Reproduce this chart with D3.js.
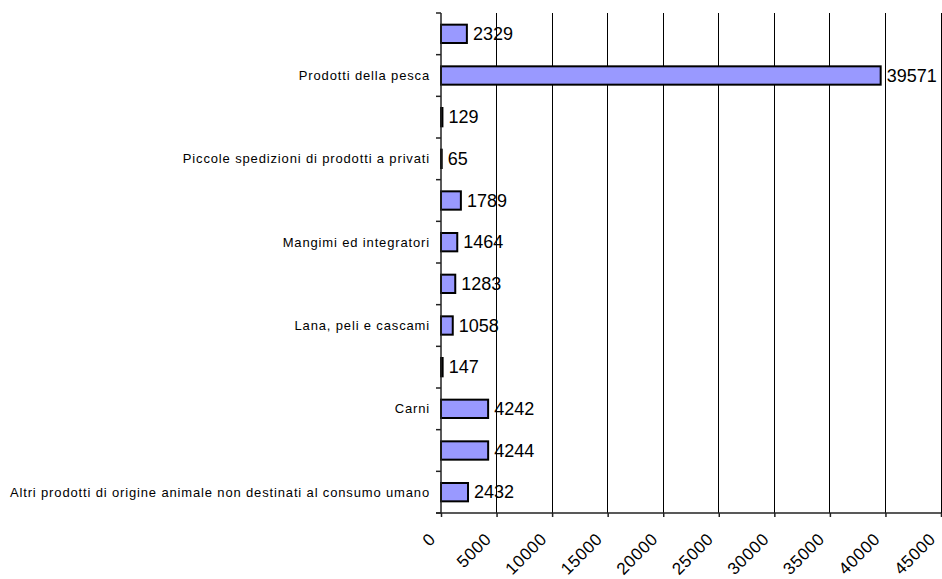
<!DOCTYPE html>
<html>
<head>
<meta charset="utf-8">
<script src="https://cdn.jsdelivr.net/npm/d3@7"></script>
<style>
  html, body { margin: 0; padding: 0; background: #fff; }
  svg { display: block; }
  text { font-family: Arial, "Liberation Sans", sans-serif; fill: #000; }
</style>
</head>
<body>
<svg id="chart" width="942" height="579"></svg>
<script>
// Categories from top to bottom (labels hidden in the original are left empty)
const categories = [
  "",
  "Prodotti della pesca",
  "",
  "Piccole spedizioni di prodotti a privati",
  "",
  "Mangimi ed integratori",
  "",
  "Lana, peli e cascami",
  "",
  "Carni",
  "",
  "Altri prodotti di origine animale non destinati al consumo umano"
];
const values = [2329, 39571, 129, 65, 1789, 1464, 1283, 1058, 147, 4242, 4244, 2432];
const xTicks = [0, 5000, 10000, 15000, 20000, 25000, 30000, 35000, 40000, 45000];

const svg = d3.select("#chart");
const mLeft = 441, mRight = 941, mTop = 13, mBottom = 513;

const x = d3.scaleLinear().domain([0, 45000]).range([mLeft, mRight]);
const y = d3.scaleBand().domain(d3.range(categories.length)).range([mTop, mBottom]).padding(0);
const barH = y.bandwidth() * 0.44;

// gridlines
svg.append("g").selectAll("line")
  .data(xTicks.filter(d => d > 0))
  .join("line")
  .attr("x1", d => x(d)).attr("x2", d => x(d))
  .attr("y1", mTop).attr("y2", mBottom)
  .attr("stroke", "#000").attr("stroke-width", 1)
  .attr("shape-rendering", "crispEdges");

// bars
svg.append("g").selectAll("rect")
  .data(values)
  .join("rect")
  .attr("x", x(0))
  .attr("y", (d, i) => y(i) + (y.bandwidth() - barH) / 2)
  .attr("width", d => x(d) - x(0))
  .attr("height", barH)
  .attr("fill", "#9999FF")
  .attr("stroke", "#000")
  .attr("stroke-width", 2);

// value labels
svg.append("g").selectAll("text")
  .data(values)
  .join("text")
  .attr("x", d => x(d) + 6)
  .attr("y", (d, i) => y(i) + y.bandwidth() / 2)
  .attr("dy", "0.35em")
  .attr("font-size", 18)
  .text(d => d);

// x axis
const xAxis = svg.append("g")
  .attr("transform", `translate(0,${mBottom})`)
  .call(d3.axisBottom(x).tickValues(xTicks).tickSize(4).tickFormat(d3.format("d")));
xAxis.select(".domain").remove();
xAxis.selectAll(".tick line").attr("stroke", "#222").attr("stroke-width", 1.5);
xAxis.selectAll(".tick text")
  .attr("font-size", 17)
  .attr("font-family", "Arial, 'Liberation Sans', sans-serif")
  .attr("letter-spacing", 0.6)
  .attr("text-anchor", "end")
  .attr("y", 0).attr("dy", "0.35em")
  .attr("transform", "translate(-9,23) rotate(-45)");
svg.append("line")
  .attr("x1", mLeft - 5).attr("x2", mRight)
  .attr("y1", mBottom).attr("y2", mBottom)
  .attr("stroke", "#222").attr("stroke-width", 1.5);

// y axis
svg.append("line")
  .attr("x1", mLeft).attr("x2", mLeft)
  .attr("y1", mTop).attr("y2", mBottom)
  .attr("stroke", "#222").attr("stroke-width", 1.5);
const boundaries = d3.range(categories.length + 1).map(i => i < categories.length ? y(i) : mBottom);
svg.append("g").selectAll("line")
  .data(boundaries)
  .join("line")
  .attr("x1", mLeft - 5).attr("x2", mLeft)
  .attr("y1", d => d).attr("y2", d => d)
  .attr("stroke", "#222").attr("stroke-width", 1.5);

// category labels
svg.append("g").selectAll("text")
  .data(categories)
  .join("text")
  .attr("x", mLeft - 11)
  .attr("y", (d, i) => y(i) + y.bandwidth() / 2)
  .attr("dy", "0.35em")
  .attr("text-anchor", "end")
  .attr("font-size", 13)
  .attr("letter-spacing", 0.85)
  .text(d => d);
</script>
</body>
</html>
